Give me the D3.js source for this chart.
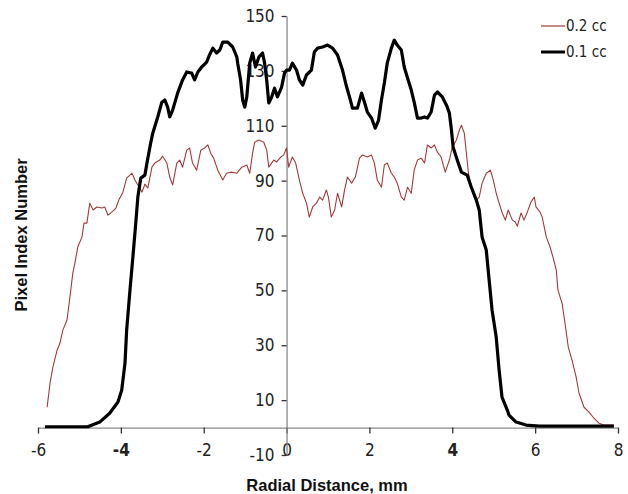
<!DOCTYPE html>
<html>
<head>
<meta charset="utf-8">
<script src="https://cdn.jsdelivr.net/npm/d3@7"></script>
<style>
  html, body { margin: 0; padding: 0; background: #fff; }
  svg { display: block; }
  .tick text { font-family: "Liberation Sans Narrow", "Arial Narrow", "DejaVu Sans Condensed", sans-serif; font-size: 17px; fill: #222; }
  .title { font-family: "Liberation Sans", Arial, sans-serif; font-weight: bold; font-size: 16.5px; fill: #111; }
  .legend text { font-family: "Liberation Sans Narrow", "Arial Narrow", "DejaVu Sans Condensed", sans-serif; font-size: 15px; fill: #222; }
</style>
</head>
<body>
<svg id="chart" width="628" height="494"></svg>
<script>
// ---- data ----
const seriesNames = ["0.2 cc", "0.1 cc"];

const x02 = [-5.78,-5.71,-5.64,-5.54,-5.47,-5.40,-5.30,-5.23,-5.16,-5.11,-5.04,-4.94,-4.89,-4.82,-4.75,-4.67,-4.58,-4.46,-4.39,-4.31,-4.22,-4.12,-4.05,-3.95,-3.86,-3.73,-3.66,-3.59,-3.49,-3.42,-3.35,-3.25,-3.18,-3.06,-2.99,-2.89,-2.82,-2.75,-2.65,-2.58,-2.51,-2.41,-2.34,-2.27,-2.17,-2.07,-1.98,-1.90,-1.83,-1.76,-1.66,-1.54,-1.45,-1.33,-1.20,-1.08,-0.96,-0.89,-0.82,-0.77,-0.67,-0.55,-0.48,-0.43,-0.36,-0.31,-0.24,-0.14,-0.07,0.00,0.05,0.14,0.22,0.31,0.39,0.48,0.55,0.63,0.72,0.80,0.87,0.96,1.01,1.08,1.16,1.23,1.33,1.40,1.47,1.57,1.66,1.76,1.83,1.95,2.05,2.12,2.19,2.29,2.36,2.43,2.53,2.60,2.67,2.77,2.84,2.92,3.01,3.08,3.16,3.25,3.33,3.40,3.49,3.57,3.64,3.73,3.83,3.93,4.00,4.10,4.17,4.22,4.29,4.34,4.39,4.46,4.58,4.65,4.72,4.82,4.92,4.99,5.06,5.13,5.20,5.28,5.35,5.45,5.52,5.57,5.66,5.73,5.81,5.90,5.98,6.02,6.12,6.17,6.27,6.36,6.43,6.51,6.55,6.65,6.72,6.80,6.89,6.99,7.06,7.18,7.30,7.42,7.54,7.66,7.90];
const y02 = [7.4,16.2,22.0,28.2,30.8,35.5,39.2,47.5,56.3,59.9,65.8,69.4,74.5,74.5,81.8,79.3,80.4,80.0,80.4,77.4,78.5,80.0,82.9,85.8,90.9,92.7,90.2,88.4,85.8,88.7,87.3,94.9,96.4,97.5,98.9,96.4,91.3,88.4,96.4,97.5,94.9,101.1,101.9,96.4,93.8,101.1,101.9,103.0,100.0,98.2,93.8,90.2,92.7,93.1,92.7,94.9,95.7,92.7,100.0,104.0,104.8,104.0,101.1,94.9,96.4,97.5,96.8,98.6,99.3,101.9,94.9,98.6,96.4,90.2,85.4,81.8,76.7,80.4,81.8,84.0,82.9,86.6,84.0,76.7,79.3,85.4,80.4,86.6,91.3,89.1,91.3,98.2,99.3,98.6,99.3,96.4,90.2,87.6,95.7,96.4,92.7,91.3,89.1,84.0,82.9,87.6,85.4,93.8,97.5,98.2,96.4,103.0,101.9,103.0,100.4,98.6,93.1,97.5,102.2,104.8,108.4,110.2,107.3,100.0,92.7,87.6,82.9,84.0,89.1,92.7,93.8,90.2,85.4,81.8,78.5,75.6,79.3,75.6,74.9,73.4,78.2,75.6,78.5,82.2,84.0,80.4,78.5,76.7,69.4,65.8,62.1,57.4,50.1,45.3,38.1,29.3,24.6,18.4,12.5,7.4,5.6,3.4,1.6,0.9,0.9];

const x01 = [-5.83,-4.80,-4.51,-4.27,-4.07,-3.98,-3.90,-3.86,-3.78,-3.71,-3.64,-3.59,-3.52,-3.42,-3.37,-3.28,-3.23,-3.11,-3.01,-2.94,-2.87,-2.82,-2.75,-2.63,-2.51,-2.41,-2.29,-2.22,-2.14,-2.05,-1.93,-1.86,-1.78,-1.69,-1.61,-1.54,-1.42,-1.30,-1.20,-1.18,-1.11,-1.06,-1.01,-0.96,-0.89,-0.82,-0.75,-0.67,-0.58,-0.53,-0.48,-0.43,-0.36,-0.29,-0.22,-0.12,-0.05,0.00,0.07,0.14,0.24,0.31,0.39,0.48,0.60,0.67,0.75,0.87,0.99,1.11,1.23,1.35,1.45,1.52,1.59,1.71,1.81,1.88,1.95,2.05,2.14,2.22,2.29,2.36,2.43,2.53,2.60,2.67,2.77,2.84,2.92,3.01,3.08,3.16,3.25,3.33,3.40,3.49,3.57,3.64,3.76,3.86,3.93,3.98,4.02,4.12,4.22,4.36,4.46,4.58,4.65,4.72,4.82,4.89,4.96,5.06,5.13,5.20,5.33,5.37,5.54,5.78,6.10,7.90];
const y01 = [0.3,0.3,2.0,5.2,9.3,13.6,23.5,35.5,50.1,62.1,74.5,84.0,90.9,92.0,96.4,103.7,107.3,113.2,118.6,119.4,116.8,113.2,115.7,121.9,126.7,129.6,129.2,126.7,129.6,131.4,133.2,135.8,138.3,136.5,137.6,140.5,140.5,138.7,135.0,132.8,126.7,119.4,116.8,120.5,132.8,136.5,131.4,135.0,136.5,132.8,126.7,118.3,120.5,123.7,120.5,124.1,129.2,130.3,130.3,132.8,130.3,126.7,124.8,128.5,130.3,136.9,138.3,138.7,139.4,138.3,135.8,130.3,124.1,120.5,116.4,116.4,121.9,118.6,115.0,112.8,109.1,112.0,119.4,125.6,132.8,138.3,141.2,139.4,137.6,131.4,127.4,123.0,118.6,112.8,112.8,113.2,112.8,115.0,121.2,122.3,120.5,117.5,114.6,108.4,102.2,97.5,93.1,92.0,87.6,82.9,79.3,69.4,64.7,53.7,42.8,33.0,21.0,11.1,6.3,4.5,2.0,0.9,0.5,0.5];

const xTicks = [-6, -4, -2, 0, 2, 4, 6, 8];
const yTicks = [-10, 10, 30, 50, 70, 90, 110, 130, 150];
const xTitle = "Radial Distance, mm";
const yTitle = "Pixel Index Number";

// ---- chart ----
const svg = d3.select("#chart");
const x = d3.scaleLinear().domain([-6, 8]).range([38, 618]);
const y = d3.scaleLinear().domain([-10, 150]).range([455, 16]);
const axisColor = "#8a8a8a";
const fmt = d => String(d);  // plain hyphen minus as in the reference

// x axis at y = 0
const gx = svg.append("g")
  .attr("transform", `translate(0,${y(0)})`)
  .call(d3.axisBottom(x).tickValues(xTicks).tickSize(6).tickSizeOuter(0).tickPadding(10).tickFormat(fmt));
gx.select(".domain").attr("stroke", axisColor).attr("stroke-width", 1.3);
gx.selectAll(".tick line").attr("stroke", "#333").attr("stroke-width", 1.3);
gx.selectAll(".tick text").attr("font-weight", d => (d === -4 || d === 4) ? "bold" : "normal");

// y axis at x = 0
const gy = svg.append("g")
  .attr("transform", `translate(${x(0)},0)`)
  .call(d3.axisLeft(y).tickValues(yTicks).tickSize(5).tickSizeOuter(0).tickPadding(7).tickFormat(fmt));
gy.select(".domain").attr("stroke", axisColor).attr("stroke-width", 1.3);
gy.selectAll(".tick line").attr("stroke", "#333").attr("stroke-width", 1.3);

// titles
svg.append("text").attr("class", "title")
  .attr("x", 327).attr("y", 491).attr("text-anchor", "middle").text(xTitle);
svg.append("text").attr("class", "title")
  .attr("transform", "translate(27,235) rotate(-90)").attr("text-anchor", "middle").text(yTitle);

// lines
const line = d3.line().x(d => x(d[0])).y(d => y(d[1]));
const d02 = x02.map((v, i) => [v, y02[i]]);
const d01 = x01.map((v, i) => [v, y01[i]]);

svg.append("path").datum(d02).attr("d", line)
  .attr("fill", "none").attr("stroke", "#a33a3a").attr("stroke-width", 1.1).attr("stroke-linejoin", "round");
svg.append("path").datum(d01).attr("d", line)
  .attr("fill", "none").attr("stroke", "#000").attr("stroke-width", 3.2).attr("stroke-linejoin", "round");

// legend
const legend = svg.append("g").attr("class", "legend");
const legendItems = [
  { name: seriesNames[0], color: "#a33a3a", width: 1.2, yPos: 26 },
  { name: seriesNames[1], color: "#000", width: 3, yPos: 52 }
];
legendItems.forEach(it => {
  legend.append("line").attr("x1", 541).attr("x2", 565).attr("y1", it.yPos).attr("y2", it.yPos)
    .attr("stroke", it.color).attr("stroke-width", it.width);
  legend.append("text").attr("x", 566).attr("y", it.yPos).attr("dy", "0.35em").text(it.name);
});
</script>
</body>
</html>
